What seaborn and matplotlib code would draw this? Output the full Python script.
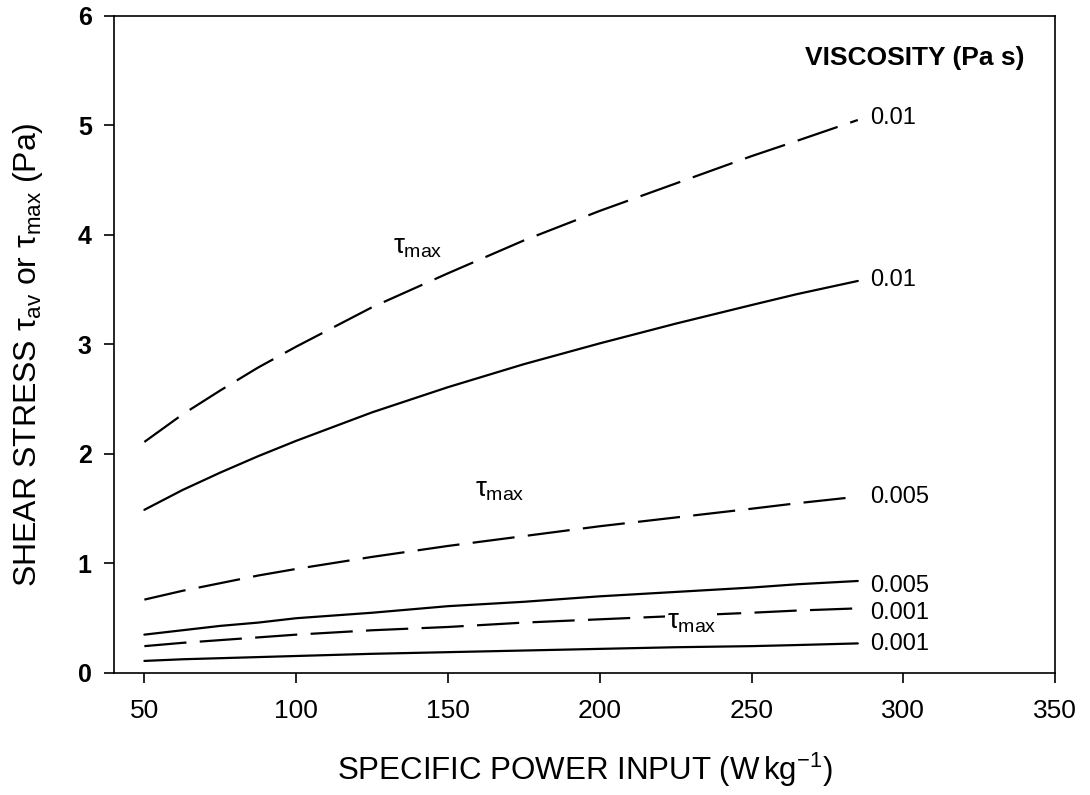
import matplotlib
matplotlib.use("Agg")
import matplotlib.pyplot as plt
import seaborn as sns
import pandas as pd

# specific power input (W/kg) at which the curves were read
power = [50, 62.5, 75, 87.5, 100, 125, 150, 175, 200, 225, 250, 265, 285]

# shear stress (Pa)
tmax_001 = [2.11, 2.36, 2.58, 2.79, 2.98, 3.34, 3.65, 3.95, 4.22, 4.47, 4.72, 4.86, 5.05]
tav_001 = [1.49, 1.67, 1.83, 1.98, 2.12, 2.38, 2.61, 2.82, 3.01, 3.19, 3.36, 3.46, 3.58]
tmax_0005 = [0.67, 0.75, 0.82, 0.89, 0.95, 1.06, 1.16, 1.25, 1.34, 1.42, 1.50, 1.55, 1.61]
tav_0005 = [0.35, 0.39, 0.43, 0.46, 0.50, 0.55, 0.61, 0.65, 0.70, 0.74, 0.78, 0.81, 0.84]
tmax_0001 = [0.245, 0.275, 0.30, 0.325, 0.35, 0.39, 0.42, 0.46, 0.49, 0.52, 0.55, 0.57, 0.59]
tav_0001 = [0.11, 0.125, 0.135, 0.145, 0.155, 0.175, 0.19, 0.205, 0.22, 0.235, 0.245, 0.255, 0.27]

series = {
    ("tmax", "0.01"): tmax_001,
    ("tav", "0.01"): tav_001,
    ("tmax", "0.005"): tmax_0005,
    ("tav", "0.005"): tav_0005,
    ("tmax", "0.001"): tmax_0001,
    ("tav", "0.001"): tav_0001,
}

rows = []
for (kind, visc), vals in series.items():
    for p, v in zip(power, vals):
        rows.append({"power": p, "stress": v, "kind": kind, "curve": kind + visc})
df = pd.DataFrame(rows)

sns.set_style("ticks")
plt.rcParams["font.family"] = ["Liberation Sans", "DejaVu Sans"]
plt.rcParams["mathtext.fontset"] = "custom"
plt.rcParams["mathtext.rm"] = "Liberation Sans"
plt.rcParams["mathtext.it"] = "Liberation Sans"
plt.rcParams["mathtext.bf"] = "Liberation Sans:bold"
for k in ["text.color", "axes.labelcolor", "xtick.color", "ytick.color"]:
    plt.rcParams[k] = "black"

fig = plt.figure(figsize=(10.9, 7.95), dpi=100)
ax = fig.add_axes([0.1046, 0.1535, 0.8634, 0.8264])

sns.lineplot(data=df, x="power", y="stress", units="curve", style="kind",
             estimator=None, color="black", linewidth=1.6,
             dashes={"tmax": (19, 6), "tav": ""}, legend=False, ax=ax)

ax.set_xlim(40, 350)
ax.set_ylim(0, 6)
ax.set_xticks([50, 100, 150, 200, 250, 300, 350])
ax.set_yticks([0, 1, 2, 3, 4, 5, 6])

for s in ax.spines.values():
    s.set_linewidth(1.2)
    s.set_color("black")
ax.tick_params(axis="both", direction="out", length=7, width=1.2, color="black")
ax.tick_params(axis="x", labelsize=19, pad=12)
ax.tick_params(axis="y", labelsize=18, pad=9)
for lab in ax.get_yticklabels():
    lab.set_fontweight("bold")

ax.set_xlabel(r"SPECIFIC POWER INPUT (W$\,$kg$^{-1}$)", fontsize=22.5)
ax.xaxis.set_label_coords(0.5, -0.118)
ax.set_ylabel(r"SHEAR STRESS $\tau_{\rm av}$ or $\tau_{\rm max}$ (Pa)", fontsize=23)
ax.yaxis.set_label_coords(-0.073, 0.485)

# viscosity labels at the ends of the curves
end_labels = [("0.01", 5.07), ("0.01", 3.59), ("0.005", 1.61),
              ("0.005", 0.79), ("0.001", 0.55), ("0.001", 0.26)]
for txt, yv in end_labels:
    ax.text(289, yv, txt, fontsize=17, va="center", ha="left")

ax.text(340, 5.62, "VISCOSITY (Pa s)", fontsize=19, fontweight="bold",
        ha="right", va="center")

# tau_max markers on the dashed curves
ax.text(132, 3.89, r"$\tau_{\rm max}$", fontsize=20, va="center", ha="left")
ax.text(159, 1.67, r"$\tau_{\rm max}$", fontsize=20, va="center", ha="left")
ax.text(222, 0.47, r"$\tau_{\rm max}$", fontsize=20, va="center", ha="left",
        bbox=dict(facecolor="white", edgecolor="none", pad=1))

fig.savefig("out.png", dpi=100)
